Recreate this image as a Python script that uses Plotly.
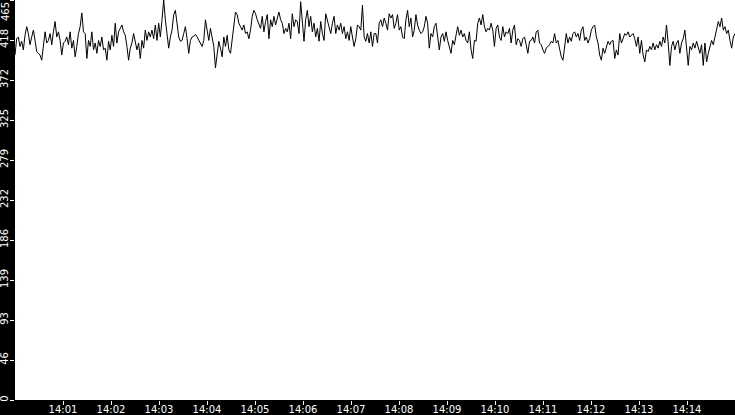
import pandas as pd
import plotly.graph_objects as go

# valori (un punto ogni ~2 s, dalle 14:00 alle 14:15)
seg1 = [401, 420, 422, 411, 417, 407, 424, 434, 426, 413, 422, 430, 418, 405, 403, 401, 395, 411,
        428, 415, 418, 426, 413, 428, 440, 422, 428, 418, 401, 415, 417, 422, 413, 428, 409, 418,
        399, 411, 426, 434, 450, 428, 426, 397, 418, 411, 428, 407, 415, 403, 418, 411, 422, 407,
        409, 395, 417, 407, 424, 411, 438, 415, 428, 432, 436, 428, 424, 411, 395, 409, 415, 426]
seg2 = [417, 407, 415, 397, 418, 409, 430, 418, 428, 422, 430, 420, 436, 418, 438, 422, 442, 465,
        442, 426, 409, 422, 430, 448, 453, 438, 422, 417, 418, 426, 434, 420, 403, 418, 422, 423,
        425, 422, 418, 415, 411, 418, 442, 430, 418, 432, 420, 411, 386, 403, 417, 409, 399, 422,
        411, 424, 407, 403, 418, 434, 451, 448, 438, 434, 430, 436, 426, 428, 420, 430, 446, 453]
seg3 = [449, 442, 436, 432, 446, 428, 440, 448, 420, 442, 434, 446, 436, 444, 451, 442, 438, 426,
        432, 428, 438, 420, 449, 434, 442, 440, 426, 463, 438, 417, 442, 453, 434, 446, 428, 438,
        422, 432, 417, 440, 426, 418, 449, 440, 434, 426, 438, 446, 426, 436, 430, 438, 426, 434,
        420, 428, 418, 434, 422, 411, 420, 436, 434, 430, 459, 422, 417, 426, 415, 428, 411, 426]
seg4 = [426, 415, 438, 442, 434, 444, 438, 430, 449, 444, 448, 432, 438, 448, 430, 434, 422, 420,
        442, 453, 434, 444, 422, 430, 448, 436, 430, 426, 428, 434, 446, 438, 409, 426, 422, 434,
        438, 420, 407, 422, 426, 417, 428, 418, 411, 403, 418, 413, 424, 434, 424, 430, 422, 426,
        418, 415, 428, 407, 397, 418, 417, 438, 444, 436, 448, 434, 428, 432, 430, 438, 430, 411]
seg5 = [432, 436, 422, 418, 434, 422, 428, 426, 432, 415, 430, 436, 413, 420, 418, 411, 420, 422,
        413, 403, 417, 418, 422, 415, 428, 430, 415, 413, 407, 403, 409, 411, 413, 417, 415, 426,
        415, 418, 409, 399, 395, 411, 426, 415, 422, 417, 426, 428, 422, 426, 418, 430, 434, 418,
        422, 415, 420, 430, 434, 436, 422, 415, 401, 395, 409, 403, 409, 417, 413, 417, 418, 397]
seg6 = [407, 401, 426, 415, 420, 426, 424, 428, 422, 424, 426, 420, 411, 422, 403, 418, 401, 393,
        407, 405, 411, 407, 415, 407, 413, 409, 417, 411, 422, 415, 436, 415, 389, 411, 417, 407,
        415, 418, 403, 415, 420, 430, 407, 389, 411, 407, 415, 409, 417, 411, 403, 413, 389, 415,
        393, 403, 411, 418, 413, 422, 432, 440, 434, 444, 430, 434, 426, 430, 418, 409, 422, 426]
valori = seg1 + seg2 + seg3 + seg4 + seg5 + seg6

# etichette degli assi
y_ticks = [0, 46.5, 93, 139.5, 186, 232.5, 279, 325.5, 372, 418.5, 465]
y_labels = ["0", "46", "93", "139", "186", "232", "279", "325", "372", "418", "465"]
minuti = ["14:01", "14:02", "14:03", "14:04", "14:05", "14:06", "14:07",
          "14:08", "14:09", "14:10", "14:11", "14:12", "14:13", "14:14"]

giorno = "2024-01-01 "
tempi = pd.date_range(giorno + "14:00:00", giorno + "14:15:00", periods=len(valori))

fig = go.Figure(go.Scatter(x=tempi, y=valori, mode="lines",
                           line=dict(color="black", width=1)))

fig.update_layout(
    width=735, height=415,
    margin=dict(l=15, r=0, t=0, b=15),
    paper_bgcolor="black", plot_bgcolor="white",
    showlegend=False,
    font=dict(family="DejaVu Sans", size=10, color="white"),
)
fig.update_xaxes(
    type="date", automargin=False,
    range=[giorno + "14:00:00", giorno + "14:15:00"],
    tickvals=[giorno + m + ":00" for m in minuti], ticktext=minuti,
    ticks="outside", ticklen=4, tickcolor="white", tickwidth=1,
    showgrid=False, zeroline=False, showline=False,
    ticklabelstandoff=-4,
)
# l'ultima etichetta (465) sta in cima e va spostata in basso per restare visibile
fig.update_yaxes(
    range=[0, 465], automargin=False,
    tickvals=y_ticks, ticktext=y_labels[:-1] + [""], tickangle=-90,
    ticks="outside", ticklen=4, tickcolor="white", tickwidth=1,
    showgrid=False, zeroline=False, showline=False,
    ticklabelstandoff=-2,
)
fig.add_annotation(text=y_labels[-1], xref="paper", yref="paper", x=0, y=1,
                   xanchor="right", yanchor="top", xshift=-2, textangle=-90,
                   showarrow=False, font=dict(size=10, color="white"))

# niente margine della pagina, il grafico occupa tutta la finestra
fig.write_html("out.html", config={"displayModeBar": False},
               post_script="document.body.style.margin='0';")
